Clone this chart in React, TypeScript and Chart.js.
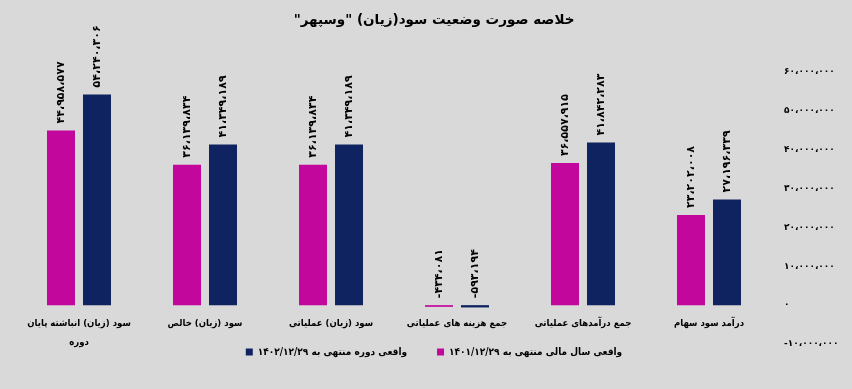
import React, { useEffect, useRef } from "react";
import { Chart, registerables } from "chart.js";

Chart.register(...registerables);

const chartTitle = 'خلاصه صورت وضعیت سود(زیان) "وسپهر"';
const categories: (string | string[])[] = [
  ["سود (زیان) انباشته پایان", "دوره"],
  "سود (زیان) خالص",
  "سود (زیان) عملیاتی",
  "جمع هزینه های عملیاتی",
  "جمع درآمدهای عملیاتی",
  "درآمد سود سهام",
];
const label1401 = "واقعی سال مالی منتهی به ۱۴۰۱/۱۲/۲۹";
const label1402 = "واقعی دوره منتهی به ۱۴۰۲/۱۲/۲۹";
const values1401 = [44958577, 36139834, 36139834, -434081, 36557915, 23202008];
const values1402 = [54240306, 41349189, 41349189, -593194, 41842283, 27196339];
const yMin = -10000000;
const yMax = 60000000;
const yStep = 10000000;

const FONT = "'DejaVu Sans', sans-serif";
const CFONT = "'DejaVu Sans Condensed', 'DejaVu Sans', sans-serif";
const PINK = "#C2079D";
const NAVY = "#0F2361";
const BG = "#D9D9D9";

const faDigits = "۰۱۲۳۴۵۶۷۸۹";
function toFa(n: number): string {
  const s = Math.abs(Math.round(n))
    .toString()
    .replace(/\B(?=(\d{3})+(?!\d))/g, "،")
    .replace(/\d/g, (d) => faDigits[+d]);
  return (n < 0 ? "-" : "") + s;
}

const bgPlugin = {
  id: "bgFill",
  beforeDraw(chart: any) {
    const { ctx, width, height } = chart;
    ctx.save();
    ctx.fillStyle = BG;
    ctx.fillRect(0, 0, width, height);
    ctx.restore();
  },
};

const barLabels = {
  id: "barLabels",
  afterDatasetsDraw(chart: any) {
    const ctx = chart.ctx;
    ctx.save();
    ctx.font = `bold 11px ${FONT}`;
    ctx.fillStyle = "#000";
    ctx.textAlign = "left";
    ctx.textBaseline = "middle";
    chart.data.datasets.forEach((ds: any, di: number) => {
      const meta = chart.getDatasetMeta(di);
      meta.data.forEach((bar: any, i: number) => {
        const v = ds.data[i] as number;
        const p = bar.getProps(["x", "y", "base"], true);
        const top = Math.min(p.y, p.base);
        ctx.save();
        ctx.translate(p.x, top - 7);
        ctx.rotate(-Math.PI / 2);
        ctx.fillText(toFa(v), 0, 0);
        ctx.restore();
      });
    });
    ctx.restore();
  },
};

export default function App() {
  const ref = useRef<HTMLCanvasElement | null>(null);

  useEffect(() => {
    document.body.style.margin = "0";
    document.body.style.background = BG;
    const canvas = ref.current;
    if (!canvas) return;
    const titleSize = 13.5;
    const legendSize = 10;
    const legendPad = 3;
    const chart = new Chart(canvas, {
      type: "bar",
      data: {
        labels: categories,
        datasets: [
          {
            label: label1401,
            data: values1401,
            backgroundColor: PINK,
            borderWidth: 0,
            categoryPercentage: 0.5714,
            barPercentage: 0.7778,
          },
          {
            label: label1402,
            data: values1402,
            backgroundColor: NAVY,
            borderWidth: 0,
            categoryPercentage: 0.5714,
            barPercentage: 0.7778,
          },
        ],
      },
      options: {
        responsive: false,
        animation: false,
        devicePixelRatio: 1,
        layout: { padding: { left: 16, right: 0, top: 0, bottom: 389 - 344 - (legendSize + legendPad + 10) } },
        plugins: {
          title: {
            display: true,
            text: chartTitle + "\u200F",
            color: "#000",
            font: { family: FONT, size: titleSize, weight: "bold", lineHeight: 1.2 },
            padding: { top: 12, bottom: 72 - 12 - titleSize * 1.2 },
          },
          legend: {
            position: "bottom",
            reverse: true,
            labels: {
              color: "#000",
              font: { family: CFONT, size: legendSize, weight: "bold" },
              boxWidth: 7,
              boxHeight: 7,
              padding: legendPad,
              generateLabels: (chart: any) => {
                const items = Chart.defaults.plugins.legend.labels.generateLabels(chart);
                return items.map((it: any) =>
                  it.datasetIndex === 1 ? { ...it, text: it.text + "\u2003\u2003\u2003" } : it
                );
              },
            },
          },
          tooltip: { enabled: false },
        },
        scales: {
          x: {
            position: { y: 0 } as any,
            grid: { display: false, drawTicks: false },
            border: { display: false },
            ticks: {
              color: "#000",
              font: { family: CFONT, size: 9.5, weight: "bold", lineHeight: 2.0 },
              padding: 9,
              maxRotation: 0,
              autoSkip: false,
            },
          },
          y: {
            position: "right",
            min: yMin,
            max: yMax,
            grid: { display: false, drawTicks: false },
            border: { display: false },
            ticks: {
              stepSize: yStep,
              color: "#000",
              font: { family: FONT, size: 9, weight: "bold" },
              padding: 12,
              callback: (v: any) => toFa(Number(v)),
            },
            afterFit: (s: any) => {
              s.width = 80;
            },
          },
        },
      },
      plugins: [bgPlugin, barLabels],
    });
    return () => chart.destroy();
  }, []);

  return (
    <div style={{ width: 852, height: 389, background: BG }}>
      <canvas ref={ref} width={852} height={389} style={{ display: "block" }} />
    </div>
  );
}
